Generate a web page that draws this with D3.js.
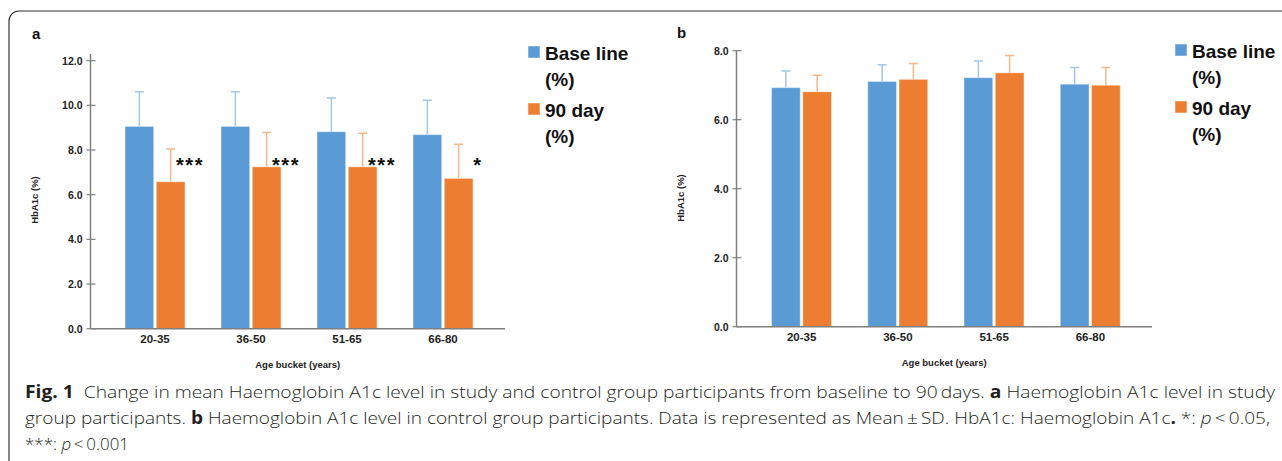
<!DOCTYPE html>
<html lang="en">
<head>
<meta charset="utf-8">
<title>HbA1c by age bucket</title>
<script src="https://cdn.jsdelivr.net/npm/d3@7"></script>
<style>
  body { margin: 0; background: #fff; }
  svg { display: block; }
</style>
</head>
<body>
<div id="chart"></div>
<script>
// age groups and the two measurement series
const ageBuckets = ["20-35", "36-50", "51-65", "66-80"];
const legendLines = [["Base line", "(%)"], ["90 day", "(%)"]];

// panel a - study group (mean, SD)
const studyBase = [9.06, 9.06, 8.82, 8.69];
const studyBaseSD = [1.55, 1.55, 1.51, 1.54];
const study90 = [6.58, 7.25, 7.25, 6.73];
const study90SD = [1.47, 1.53, 1.50, 1.53];
const studyStars = ["***", "***", "***", "*"];
const studyTicks = [0, 2, 4, 6, 8, 10, 12];

// panel b - control group (mean, SD)
const controlBase = [6.93, 7.11, 7.22, 7.03];
const controlBaseSD = [0.48, 0.48, 0.48, 0.48];
const control90 = [6.81, 7.17, 7.36, 7.00];
const control90SD = [0.48, 0.46, 0.50, 0.51];
const controlTicks = [0, 2, 4, 6, 8];

const colors = ["#5b9bd5", "#ed7d31"];
const errColors = ["#a3c6ea", "#f6b78a"];

const W = 1282, H = 461;
const svg = d3.select("#chart").append("svg").attr("width", W).attr("height", H);

// frame with rounded top-left corner, runs off the right and bottom edges
svg.append("rect")
  .attr("x", 9).attr("y", 11).attr("width", 1400).attr("height", 600)
  .attr("rx", 10).attr("fill", "none").attr("stroke", "#333").attr("stroke-width", 1.2);

function drawPanel(p) {
  const g = svg.append("g");
  const y = d3.scaleLinear().domain([0, p.yMax]).range([p.y0, p.yTop]);
  const x = d3.scaleBand().domain(ageBuckets).range(p.bandRange);
  const xs = d3.scaleBand().domain([0, 1]).range([18, 78]).paddingInner(0.08);

  // y axis
  g.append("line").attr("x1", p.axisX).attr("x2", p.axisX)
    .attr("y1", y(p.axisTop)).attr("y2", p.y0)
    .attr("stroke", "#7f7f7f").attr("stroke-width", 1.5);
  g.selectAll(".tick").data(p.ticks).enter().append("line")
    .attr("x1", p.axisX - 4).attr("x2", p.axisX + 5)
    .attr("y1", d => y(d)).attr("y2", d => y(d))
    .attr("stroke", "#7f7f7f").attr("stroke-width", 1.2);
  g.selectAll(".tl").data(p.ticks).enter().append("text")
    .attr("x", p.axisX - 8).attr("y", d => y(d) + 4)
    .attr("text-anchor", "end")
    .style("font", "bold 10.5px 'Liberation Sans', Arial, sans-serif").attr("fill", "#222")
    .text(d => d.toFixed(1));

  // bars + error bars
  const series = [
    { vals: p.base, sd: p.baseSD },
    { vals: p.day90, sd: p.day90SD }
  ];
  series.forEach((s, si) => {
    const bw = xs.bandwidth();
    g.selectAll(".bar" + si).data(ageBuckets).enter().append("rect")
      .attr("x", (d) => x(d) + xs(si))
      .attr("y", (d, i) => y(s.vals[i]))
      .attr("width", bw)
      .attr("height", (d, i) => p.y0 - y(s.vals[i]))
      .attr("fill", colors[si])
      .attr("stroke", "rgba(255,255,255,0.45)").attr("stroke-width", 1);
    g.selectAll(".err" + si).data(ageBuckets).enter().append("path")
      .attr("d", (d, i) => {
        const cx = x(d) + xs(si) + bw / 2;
        const top = y(s.vals[i] + s.sd[i]);
        return `M${cx},${y(s.vals[i])}V${top}M${cx - 4.5},${top}H${cx + 4.5}`;
      })
      .attr("fill", "none").attr("stroke", errColors[si]).attr("stroke-width", 1.5);
  });

  // significance marks
  if (p.stars) {
    g.selectAll(".star").data(ageBuckets).enter().append("text")
      .attr("x", d => x(d) + xs(1) + xs.bandwidth() + 5)
      .attr("y", y(p.starLevel) + 11)
      .attr("text-anchor", "middle")
      .attr("letter-spacing", 1.5)
      .style("font", "bold 20px 'Liberation Sans', Arial, sans-serif").attr("fill", "#111")
      .text((d, i) => p.stars[i]);
  }

  // x axis
  g.append("line").attr("x1", p.axisX).attr("x2", p.axisRight)
    .attr("y1", p.y0).attr("y2", p.y0)
    .attr("stroke", "#7f7f7f").attr("stroke-width", 1.5);
  g.selectAll(".cl").data(ageBuckets).enter().append("text")
    .attr("x", d => x(d) + x.bandwidth() / 2).attr("y", p.y0 + 14)
    .attr("text-anchor", "middle")
    .style("font", "bold 11.5px 'Liberation Sans', Arial, sans-serif").attr("fill", "#222")
    .text(d => d);
  g.append("text")
    .attr("x", (p.axisX + p.axisRight) / 2).attr("y", p.y0 + 39)
    .attr("text-anchor", "middle")
    .style("font", "bold 9.5px 'Liberation Sans', Arial, sans-serif").attr("fill", "#222")
    .text("Age bucket (years)");
  g.append("text")
    .attr("transform", `translate(${p.yLabelX},${p.yLabelY}) rotate(-90)`)
    .attr("text-anchor", "middle")
    .style("font", "bold 9.5px 'Liberation Sans', Arial, sans-serif").attr("fill", "#222")
    .text("HbA1c (%)");

  // panel letter
  g.append("text").attr("x", p.letterX).attr("y", p.letterY)
    .style("font", "bold 15px 'Liberation Sans', Arial, sans-serif").attr("fill", "#111")
    .text(p.letter);

  // legend
  const lg = g.append("g").attr("transform", `translate(${p.legendX},${p.legendY})`);
  legendLines.forEach((lines, li) => {
    const oy = li * 57;
    lg.append("rect").attr("x", 0).attr("y", oy).attr("width", 12).attr("height", 12)
      .attr("fill", colors[li]).attr("stroke", "rgba(255,255,255,0.5)");
    lines.forEach((t, k) => {
      lg.append("text").attr("x", 17).attr("y", oy + 14 + k * 26)
        .style("font", "bold 19px 'Liberation Sans', Arial, sans-serif").attr("fill", "#111")
        .text(t);
    });
  });
}

drawPanel({
  letter: "a", letterX: 32, letterY: 39,
  base: studyBase, baseSD: studyBaseSD, day90: study90, day90SD: study90SD,
  stars: studyStars, starLevel: 7.5,
  ticks: studyTicks, yMax: 12, axisTop: 12.3,
  y0: 328.7, yTop: 60.7,
  axisX: 90.5, axisRight: 505, bandRange: [107, 491],
  yLabelX: 38, yLabelY: 200,
  legendX: 528, legendY: 46
});

drawPanel({
  letter: "b", letterX: 677, letterY: 38,
  base: controlBase, baseSD: controlBaseSD, day90: control90, day90SD: control90SD,
  stars: null,
  ticks: controlTicks, yMax: 8, axisTop: 8,
  y0: 326.7, yTop: 50.7,
  axisX: 736.5, axisRight: 1152, bandRange: [753.5, 1138.5],
  yLabelX: 684, yLabelY: 198,
  legendX: 1175, legendY: 44
});

// caption
const capFont = "'Open Sans', 'Noto Sans', sans-serif";
const caption = [
  { y: 398, len: 1250, parts: [
    ["Fig. 1", "b"], ["  Change in mean Haemoglobin A1c level in study and control group participants from baseline to 90\u2009days. ", ""],
    ["a", "b"], [" Haemoglobin A1c level in study", ""]] },
  { y: 424, len: 1245, parts: [
    ["group participants. ", ""], ["b", "b"],
    [" Haemoglobin A1c level in control group participants. Data is represented as Mean\u2009\u00b1\u2009SD. HbA1c: Haemoglobin A1c", ""],
    [".", "b"], [" *: ", ""], ["p", "i"], ["\u2009<\u20090.05,", ""]] },
  { y: 450, len: 104, parts: [["***: ", ""], ["p", "i"], ["\u2009<\u20090.001", ""]] }
];
caption.forEach(line => {
  const t = svg.append("text").attr("x", 25).attr("y", line.y)
    .attr("textLength", line.len).attr("lengthAdjust", "spacingAndGlyphs")
    .style("font-family", capFont).style("font-size", "17px").style("font-weight", 300)
    .attr("fill", "#231f20").attr("xml:space", "preserve");
  line.parts.forEach(([s, f]) => {
    t.append("tspan").text(s)
      .style("font-weight", f === "b" ? 700 : 300)
      .style("font-style", f === "i" ? "italic" : "normal");
  });
});
</script>
</body>
</html>
